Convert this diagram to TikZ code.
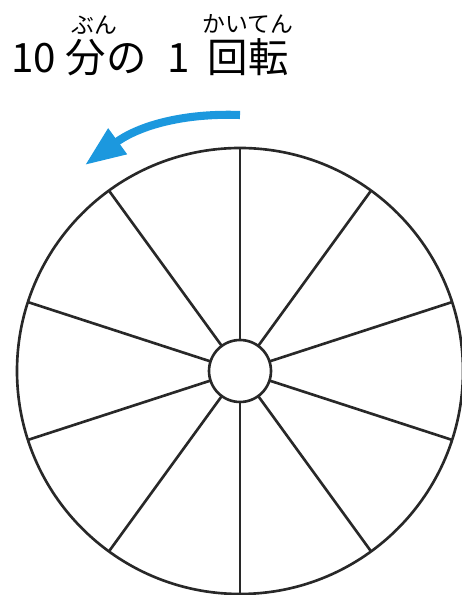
\documentclass[tikz,border=0pt]{standalone}
\usepackage{fontspec}
\newfontfamily\jpfont{Noto Sans CJK JP}
\usetikzlibrary{arrows.meta,positioning,calc}
\definecolor{turnblue}{RGB}{28,152,222}
\definecolor{wheelgray}{RGB}{40,40,40}

\begin{document}
\begin{tikzpicture}[
  x=0.02cm, y=0.02cm,
  node distance=0.9mm,
  title/.style={font=\jpfont\fontsize{23}{23}\selectfont, inner sep=0pt, anchor=base},
  ruby/.style={font=\jpfont\fontsize{13}{13}\selectfont, inner sep=0pt},
  hub/.style={circle, draw=wheelgray, line width=1.5pt, minimum size=1.24cm, inner sep=0pt, outer sep=0pt},
  rim/.style={draw=wheelgray, line width=1.5pt},
  spoke/.style={draw=wheelgray, line width=1.5pt},
  turn/.style={draw=turnblue, line width=4.6pt, -{Triangle[length=23pt, width=17pt]}}
]
\useasboundingbox (0,0) rectangle (462,595);

% title with furigana
\node[title] (ten) at (34,522) {10};
\node[title] (bun) at (86,522) {分};
\node[title] (no) at (127,522) {の};
\node[title] (one) at (179,522) {1};
\node[title] (kaiten) at (248,522) {回転};
\node[ruby, above=of bun, xshift=5pt] (bunruby) {ぶん};
\node[ruby, above=of kaiten] (kaitenruby) {かいてん};

% rotation arrow
\coordinate (turnstart) at (240,480);
\coordinate (turnend) at (85,430);
\draw[turn] (turnstart) .. controls (185,482) and (140,470) .. (turnend);

% wheel
\node[hub] (hub) at (240,224) {};
\draw[rim] (hub.center) circle[radius=223];
\foreach \a in {90,54,18,-18,-54,-90,-126,-162,-198,-234}
  \draw[spoke] (hub.\a) -- ($(hub.center)+(\a:223)$);
\end{tikzpicture}
\end{document}
